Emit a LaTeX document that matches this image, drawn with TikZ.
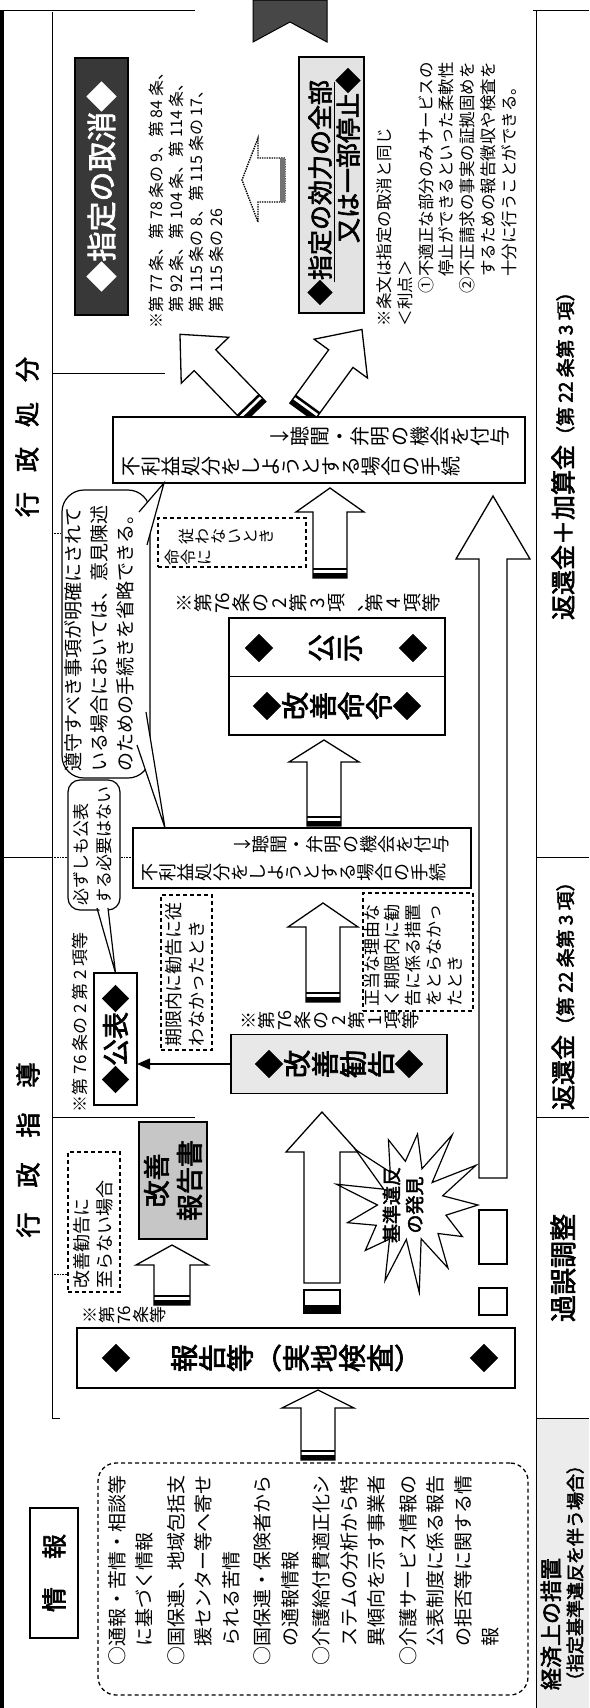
\documentclass[tikz,border=0pt]{standalone}
\usepackage{fontspec}
\usepackage{graphicx}
\setmainfont{Noto Sans CJK JP}
\newfontfamily\bjp{Noto Sans CJK JP}[FakeBold=2.5]
\usetikzlibrary{arrows.meta,calc}
\ExplSyntaxOn
\NewDocumentCommand\Y{m}{\tl_map_inline:nn{#1}{\rotatebox[origin=c]{90}{\raisebox{0pt}[0.88em][0.12em]{##1}}}}
\ExplSyntaxOff
\newcommand\fz[2]{\fontsize{#1}{#2}\selectfont}
\newcommand\RP[1]{\rotatebox[origin=c]{-90}{#1}}
% hollow block arrow with striped tail: tail, angle, length, shaft half, head half, head length
\newcommand\HArr[6]{%
 \begin{scope}[shift={(#1)},rotate=#2]
 \draw[line width=1.3pt,fill=white,line join=miter] (0,-#4) -- ({#3-#6},-#4) -- ({#3-#6},-#5) -- (#3,0) -- ({#3-#6},#5) -- ({#3-#6},#4) -- (0,#4) -- cycle;
 \fill (0,-#4) rectangle (5,#4);
 \fill (8,-#4) rectangle (10.5,#4);
 \end{scope}}
\newcommand\HArrN[6]{%
 \begin{scope}[shift={(#1)},rotate=#2]
 \draw[line width=1.3pt,fill=white,line join=miter] (0,-#4) -- ({#3-#6},-#4) -- ({#3-#6},-#5) -- (#3,0) -- ({#3-#6},#5) -- ({#3-#6},#4) -- (0,#4) -- cycle;
 \end{scope}}
\begin{document}
\begin{tikzpicture}[x=1pt,y=-1pt,
  box/.style={draw,line width=1.3pt,inner sep=0pt,outer sep=0pt},
  dbox/.style={draw,line width=1.3pt,dash pattern=on 4pt off 3pt,inner sep=0pt,outer sep=0pt},
  R/.style={rotate=90,inner sep=0pt,outer sep=0pt},
  T/.style={inner sep=0pt,outer sep=0pt},
  bubble/.style={draw,line width=1.2pt,fill=white,inner sep=0pt,outer sep=0pt}]
\useasboundingbox (0,0) rectangle (589,1708);
\fill[white] (0,0) rectangle (589,1708);

% ---------- frame lines ----------
\draw[line width=4pt] (2,10) -- (2,1708);
\draw[line width=0.8pt] (0,10) -- (195,10);
\draw[line width=0.8pt] (533,10) -- (589,10);
\draw[line width=1pt] (52,12) -- (52,1418) -- (60,1418);
\draw[line width=1pt] (536,10) -- (536,1708);
\draw[line width=0.8pt] (536,857) -- (589,857);
\draw[line width=0.8pt] (536,1117) -- (589,1117);
\draw[line width=0.8pt] (536,1418) -- (589,1418);
\draw[line width=0.8pt] (2,857) -- (52,857);
\draw[line width=0.6pt,densely dotted] (52,857) -- (135,857);
\draw[line width=0.8pt] (52,373) -- (165,373);
\draw[line width=0.6pt,densely dotted] (52,533) -- (143,533);
\draw[line width=0.8pt] (52,1117) -- (195,1117);
\draw[line width=0.6pt,densely dotted] (52,1274) -- (68,1274);

% ---------- headers ----------
\node[R,font=\bjp\fz{25}{25}] (hdrA) at (27,437) {行\hspace{20pt}政\hspace{20pt}処\hspace{20pt}分};
\node[R,font=\bjp\fz{25}{25}] (hdrB) at (28,1150) {行\hspace{25pt}政\hspace{25pt}指\hspace{25pt}導};

% ---------- top chevron ----------
\draw[line width=1pt,fill=black!72] (253,0) -- (327,0) -- (327,42) -- (290,22) -- (253,42) -- cycle;

% ---------- 指定の取消 ----------
\node[box,fill=black!78,minimum width=53,minimum height=257] (torikeshi) at (101.5,186.5) {};
\node[R,text=white,font=\bjp\fz{30}{30}] (torikeshiT) at (torikeshi) {◆指定の取消◆};
\node[R,anchor=north west,align=left,font=\fz{16}{20}] (jobun1) at (149,328)
 {※第 77 条、第 78 条の 9、第 84 条、\\\phantom{※}第 92 条、第 104 条、第 114 条、\\\phantom{※}第 115 条の 8、第 115 条の 17、\\\phantom{※}第 115 条の 26};

% dotted arrow (停止 -> 取消)
\begin{scope}[shift={(285,180)},rotate=180]
\draw[densely dotted,line width=1.4pt,fill=white] (0,-22) -- (27,-22) -- (27,-42) -- (43,0) -- (27,42) -- (27,22) -- (0,22) -- cycle;
\fill[black!55] (0,-22) rectangle (5,22);
\end{scope}

% ---------- 指定の効力の全部又は一部停止 ----------
\node[box,line width=2pt,fill=gray!22,minimum width=65,minimum height=256] (teishi) at (331.5,185) {};
\node[R,anchor=west,font=\bjp\fz{25}{25}] (teishi1) at (320,305) {◆指定の効力の全部};
\node[R,anchor=east,font=\bjp\fz{25}{25}] (teishi2) at (348,68) {又は一部停止◆};
\draw[line width=1pt] (334,282) -- (334,82);

\node[R,anchor=north west,align=left,font=\fz{16.5}{20.7}] (jobun2) at (377,326)
 {※条文は指定の取消と同じ\\＜利点＞\\\hspace*{2em}①不適正な部分のみサービスの\\\hspace*{3em}停止ができるといった柔軟性\\\hspace*{2em}②不正請求の事実の証拠固めを\\\hspace*{3em}するための報告徴収や検査を\\\hspace*{3em}十分に行うことができる。};

% ---------- big diagonal arrows ----------
\HArr{255,412}{134}{108}{15}{33}{36}
\HArr{302,412}{54}{102}{15}{33}{36}

% ---------- upper 不利益処分 box ----------
\node[box,fill=white,minimum width=412,minimum height=66] (furieki1) at (319,450) {};
\node[T,anchor=west,font=\fz{20}{20}] (f1a) at (121,466) {\Y{不利益処分をしようとする場合の手続}};
\node[T,anchor=east,font=\fz{20}{20}] (f1b) at (510,436) {\Y{↓聴聞・弁明の機会を付与}};

% ---------- long right arrow ----------
\HArrN{493,1178}{90}{682}{14}{37}{63}
\draw[line width=1.3pt] (479,1210) rectangle (507,1264);
\draw[line width=1.3pt] (479,1288) rectangle (507,1315);

% ---------- 遵守 bubble ----------
\node[bubble,rounded corners=22pt,minimum width=88,minimum height=288] (junshu) at (106,634) {};
\fill[white] (139,512) -- ($(furieki1.south west)+(51,0)$) -- (147,545) -- cycle;
\draw[line width=1.2pt] (139,512) -- ($(furieki1.south west)+(51,0)$) -- (147,545);
\node[R,anchor=north west,align=left,font=\fz{19}{26}] (junshuT) at (64,771)
 {遵守すべき事項が明確にされて\\いる場合においては、意見陳述\\のための手続きを省略できる。};

% ---------- 命令に従わないとき ----------
\node[dbox,minimum width=148,minimum height=49] (meirei) at (232,542.5) {};
\node[T,anchor=west,font=\fz{16}{16}] (meireiA) at (178,536) {\Y{従わないとき}};
\node[T,anchor=west,font=\fz{16}{16}] (meireiB) at (164,557) {\Y{命令に}};

\HArr{330,578}{90}{90}{17}{34}{24}

\node[T,anchor=west,font=\fz{19}{19}] (note3) at (175,603) {\Y{※第{76}条の2第3項、第4項等}};

% ---------- 公示 / 改善命令 ----------
\node[box,fill=white,minimum width=216,minimum height=117] (komei) at (337,676.5) {};
\draw[line width=1.3pt] (komei.west) -- (komei.east);
\node[T,font=\bjp\fz{28}{28}] (kojiA) at (259,648) {◆};
\node[T,font=\bjp\fz{28}{28}] (koji) at (335,648) {\Y{公示}};
\node[T,font=\bjp\fz{28}{28}] (kojiB) at (413,648) {◆};
\node[T,font=\bjp\fz{28}{28}] (kaizenmei) at (337,706) {\Y{◆改善命令◆}};

\HArr{324,826}{90}{86}{17}{35}{22}

% ---------- lower 不利益処分 box ----------
\node[box,fill=white,minimum width=338,minimum height=60] (furieki2) at (302,858) {};
\node[T,anchor=west,font=\fz{18}{18}] (f2a) at (141,872) {\Y{不利益処分をしようとする場合の手続}};
\node[T,anchor=east,font=\fz{18}{18}] (f2b) at (450,844) {\Y{↓聴聞・弁明の機会を付与}};

\fill[white] (137,745) -- ($(furieki2.north west)+(32,0)$) -- (146,712) -- cycle;
\draw[line width=1.2pt] (137,745) -- ($(furieki2.north west)+(32,0)$) -- (146,712);

% ---------- 必ずしも bubble ----------
\node[bubble,rounded corners=12pt,minimum width=52,minimum height=130] (kanarazu) at (94,845) {};
\node[R,anchor=north west,align=left,font=\fz{17}{23}] (kanarazuT) at (73,905) {必ずしも公表\\する必要はない};

% ---------- 公表 ----------
\node[box,fill=white,minimum width=43,minimum height=132] (kohyo) at (115.5,1039) {};
\node[R,font=\bjp\fz{27}{27}] (kohyoT) at (kohyo) {◆公表◆};
\fill[white] (97,900) -- (kohyo.north) -- (108,900) -- cycle;
\draw[line width=1.2pt] (97,908) -- (kohyo.north) -- (108,908);
\node[R,anchor=west,font=\fz{17}{17}] (note2) at (80,1112) {※第 76 条の 2 第 2 項等};

% ---------- 期限内 / 正当な理由 ----------
\node[dbox,minimum width=51,minimum height=155] (kigen) at (186.5,972.5) {};
\node[R,anchor=north west,align=left,font=\fz{18}{23}] (kigenT) at (165,1046) {期限内に勧告に従\\わなかったとき};
\node[dbox,minimum width=110,minimum height=118] (seito) at (418,952) {};
\node[R,anchor=north west,align=left,font=\fz{17}{20.7}] (seitoT) at (364,1006) {正当な理由な\\く期限内に勧\\告に係る措置\\をとらなかっ\\たとき};

\HArr{323,1002}{90}{99}{17}{35}{24}

% ---------- 改善勧告 ----------
\node[T,anchor=west,font=\fz{18}{18}] (note1) at (240,1020) {\Y{※第{76}条の2第1項等}};
\node[box,fill=gray!18,minimum width=216,minimum height=59] (kankoku) at (339,1064) {};
\node[T,font=\bjp\fz{28}{28}] (kankokuT) at (kankoku) {\Y{◆改善勧告◆}};
\draw[line width=1.3pt,-{Triangle[length=13pt,width=11pt]}] (kankoku.west) -- (kankoku.west -| kohyo.east);

% ---------- central arrow ----------
\HArrN{322,1283}{90}{171}{18}{36}{40}
\draw[line width=1.3pt] (304,1290) rectangle (340,1313);
\fill (304,1305) rectangle (340,1313);

% ---------- star ----------
\draw[line width=1.2pt,fill=white] (478,1205)
 \foreach \k [evaluate=\k as \a using \k*360/26, evaluate=\k as \r using {(mod(\k,2)==0 ? 1 : 0.5)*(1+0.13*sin(\k*137))}] in {1,...,25}
 { -- ({410+68*\r*cos(\a)},{1205+78*\r*sin(\a)}) } -- cycle;
\node[R,align=center,font=\bjp\fz{19}{23}] (star) at (403,1205) {基準違反\\の発見};

% ---------- 改善報告書 / 至らない場合 ----------
\node[box,fill=gray!45,minimum width=68,minimum height=117] (hokokusho) at (173,1180.5) {};
\node[R,align=center,font=\bjp\fz{27}{33}] (hokokushoT) at (hokokusho) {改善\\報告書};
\node[dbox,minimum width=52,minimum height=140] (itaranai) at (94,1222) {};
\node[R,anchor=north west,align=left,font=\fz{18}{23}] (itaranaiT) at (73,1288) {改善勧告に\\至らない場合};

\HArr{172,1305}{90}{60}{18}{36}{20}

% ---------- 報告等（実地検査） ----------
\node[T,anchor=west,font=\fz{17}{17}] (note0) at (82,1315) {\Y{※第{76}条等}};
\node[box,fill=white,minimum width=438,minimum height=60] (hokoku) at (296,1358) {};
\node[T,font=\bjp\fz{28}{28}] (hokokuT) at (hokoku) {\Y{報告等{\RP{（}}実地検査{\RP{）}}}};
\node[T,font=\bjp\fz{28}{28}] (hkA) at (116,1358) {◆};
\node[T,font=\bjp\fz{28}{28}] (hkB) at (484,1358) {◆};

\HArr{318,1460}{90}{70}{17}{36}{18}

% ---------- 情報 ----------
\node[box,line width=2.5pt,minimum width=48,minimum height=130] (joho) at (54,1573) {};
\node[R,font=\bjp\fz{25}{25}] (johoT) at (joho) {情\hspace{28pt}報};
\node[dbox,rounded corners=18pt,minimum width=430,minimum height=232] (infobox) at (313,1579) {};
\node[R,anchor=north west,align=left,font=\fz{19}{27.5}] (infoT) at (108,1665)
 {○通報・苦情・相談等\\\hspace*{1em}に基づく情報\\[4pt]
  ○国保連、地域包括支\\\hspace*{1em}援センター等へ寄せ\\\hspace*{1em}られる苦情\\[4pt]
  ○国保連・保険者から\\\hspace*{1em}の通報情報\\[4pt]
  ○介護給付費適正化シ\\\hspace*{1em}ステムの分析から特\\\hspace*{1em}異傾向を示す事業者\\[4pt]
  ○介護サービス情報の\\\hspace*{1em}公表制度に係る報告\\\hspace*{1em}の拒否等に関する情\\\hspace*{1em}報};

% ---------- bottom band ----------
\node[R,anchor=west,font=\bjp\fz{25}{25}] (band1) at (563,620) {返還金＋加算金{\fz{19}{19}（第 22 条第 3 項）}};
\node[R,anchor=west,font=\bjp\fz{25}{25}] (band2) at (563,1110) {返還金{\fz{19}{19}（第 22 条第 3 項）}};
\node[R,font=\bjp\fz{27}{27}] (band3) at (563,1268) {過誤調整};
\fill[gray!15] (537,1419) rectangle (589,1708);
\node[R,anchor=west,font=\bjp\fz{22}{22}] (band4) at (551,1690) {経済上の措置};
\node[R,anchor=west,font=\bjp\fz{18}{18}] (band5) at (575,1690) {（指定基準違反を伴う場合）};
\end{tikzpicture}
\end{document}
